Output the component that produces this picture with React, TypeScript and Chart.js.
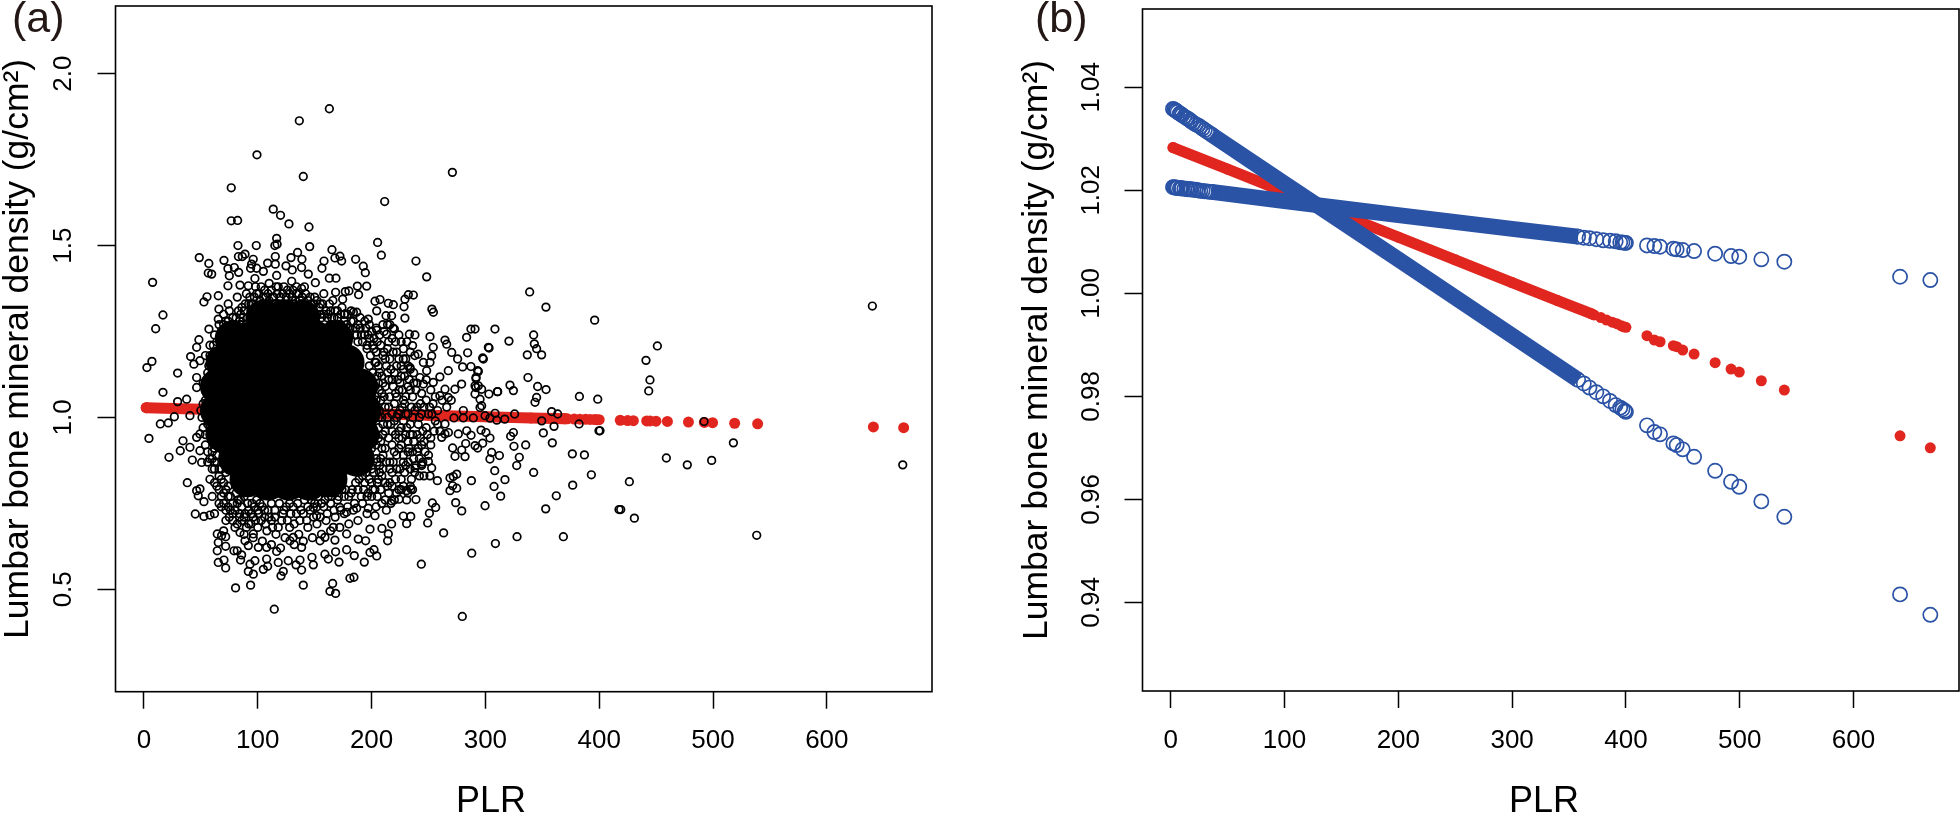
import React, { useEffect, useRef } from "react";
import { Chart, registerables } from "chart.js";

Chart.register(...registerables);

const X_TICKS = [0, 100, 200, 300, 400, 500, 600];
const Y_TICKS_A = [0.5, 1.0, 1.5, 2.0];
const Y_TICKS_B = [0.94, 0.96, 0.98, 1.0, 1.02, 1.04];
const X_TITLE = "PLR";
const Y_TITLE = "Lumbar bone mineral density (g/cm²)";

// --- fitted lines (panel a and b), dense stretch drawn as a band
const RED_BAND_X = [2, 50, 100, 150, 200, 250, 300, 340, 370];
const RED_BAND_Y = [1.0283, 1.0241, 1.0197, 1.0153, 1.0109, 1.0065, 1.0021, 0.9986, 0.996];
const RED_X = [2, 370, 372, 378, 383, 388, 392, 396, 398, 400, 418.5, 425, 430, 441.7, 444.6, 449.9, 459.9, 478.4, 492.4, 499.6, 519, 539.2, 640.9, 667.5];
const RED_Y = [1.0283, 0.996, 0.9958, 0.9953, 0.9948, 0.9944, 0.9941, 0.9937, 0.9935, 0.9934, 0.99177, 0.99093, 0.9906, 0.98983, 0.98964, 0.98899, 0.98822, 0.98653, 0.9853, 0.98472, 0.98303, 0.98122, 0.97235, 0.97002];

const BLUE_BAND_X = [36, 100, 200, 300, 358];
const UPPER_BAND_Y = [1.0197, 1.0179, 1.0152, 1.0125, 1.011];
const LOWER_BAND_Y = [1.0308, 1.0213, 1.0066, 0.9918, 0.9832];

const BLUE_X = [2, 3, 4, 5, 6, 8, 9, 10, 12, 14, 15, 17, 18, 20, 22, 24, 26, 28, 30, 32, 34, 36,
  358, 363, 368, 374, 380, 386, 391, 395, 397, 399, 400,
  418.5, 425, 430, 441.7, 444.6, 449.9, 459.9, 478.4, 492.4, 499.6, 519, 539.2, 640.9, 667.5];
const UPPER_Y = [1.0206, 1.0206, 1.0205, 1.0205, 1.0205, 1.0204, 1.0204, 1.0204, 1.0203, 1.0203, 1.0202, 1.0202, 1.0202, 1.0201, 1.0201, 1.02, 1.0199, 1.0199, 1.0198, 1.0198, 1.0197, 1.0197,
  1.011, 1.0108, 1.0107, 1.0105, 1.0103, 1.0102, 1.0101, 1.0099, 1.0099, 1.0098, 1.0098,
  1.0093, 1.00918, 1.00905, 1.00866, 1.00854, 1.00841, 1.00821, 1.00769, 1.00724, 1.00711, 1.0066, 1.00614, 1.00322, 1.00258];
const LOWER_Y = [1.0358, 1.0357, 1.0355, 1.0354, 1.0352, 1.0349, 1.0348, 1.0346, 1.0343, 1.034, 1.0339, 1.0336, 1.0334, 1.0331, 1.0328, 1.0326, 1.0323, 1.032, 1.0317, 1.0314, 1.0311, 1.0308,
  0.9832, 0.9825, 0.9817, 0.9808, 0.98, 0.9791, 0.9783, 0.9778, 0.9775, 0.9772, 0.977,
  0.97437, 0.97307, 0.97262, 0.97087, 0.97054, 0.96971, 0.96827, 0.96555, 0.96342, 0.96245, 0.95961, 0.95662, 0.94155, 0.93759];

// --- panel a: the solid centre of the cloud
const CLOUD_CORE = [
  [105, 1.29], [122, 1.29], [139, 1.29],
  [78, 1.23], [96, 1.23], [114, 1.23], [132, 1.23], [150, 1.23], [168, 1.23],
  [70, 1.16], [88, 1.16], [106, 1.16], [124, 1.16], [142, 1.16], [160, 1.16], [178, 1.16],
  [65, 1.09], [83, 1.09], [101, 1.09], [119, 1.09], [137, 1.09], [155, 1.09], [173, 1.09], [190, 1.09],
  [65, 1.02], [83, 1.02], [101, 1.02], [119, 1.02], [137, 1.02], [155, 1.02], [173, 1.02], [193, 1.02],
  [70, 0.95], [88, 0.95], [106, 0.95], [124, 0.95], [142, 0.95], [160, 0.95], [178, 0.95], [191, 0.95],
  [81, 0.88], [99, 0.88], [117, 0.88], [135, 0.88], [153, 0.88], [171, 0.88], [187, 0.88],
  [91, 0.82], [109, 0.81], [127, 0.81], [145, 0.81], [163, 0.82],
];

// --- panel a: individual subjects
const CLOUD_UPPER = [
  [162.9, 1.898], [136.5, 1.863], [99.3, 1.764], [140, 1.701], [271, 1.713], [76.7, 1.668], [211.5, 1.628], [76.7, 1.572], [82.3, 1.573],
  [113.6, 1.606], [120, 1.588], [127.4, 1.563], [145, 1.554], [116.6, 1.521], [115, 1.5], [117, 1.504], [82.6, 1.5], [98.7, 1.5], [145.6, 1.497],
  [205.3, 1.509], [208.6, 1.472], [239, 1.455], [248.4, 1.409], [7.6, 1.393], [16.7, 1.298], [10.3, 1.258], [2.6, 1.145], [7, 1.163],
  [29.6, 1.129], [16.7, 1.073], [29.6, 1.046], [37.5, 1.053], [48.6, 1.465], [57, 1.448], [56.5, 1.42], [59.5, 1.417], [70.3, 1.457], [73.8, 1.433],
  [79.4, 1.436], [83.2, 1.422], [83, 1.468], [86.4, 1.468], [88.8, 1.475], [96, 1.46], [94.6, 1.446], [99, 1.434], [93.7, 1.434], [104.9, 1.425],
  [108.7, 1.449], [115.4, 1.468], [115.4, 1.446], [124.8, 1.441], [129.2, 1.465], [135, 1.48], [138.8, 1.46], [130.3, 1.429], [138.5, 1.436], [144.4, 1.417],
  [158.2, 1.455], [156.4, 1.434], [165.2, 1.488], [167.8, 1.464], [172.2, 1.469], [173.7, 1.455], [162.9, 1.405], [168.7, 1.405], [186, 1.46], [192.7, 1.44],
  [194.5, 1.421], [195.7, 1.382], [187.5, 1.382], [188.6, 1.357], [176.9, 1.366], [180.1, 1.368], [174.6, 1.344], [168.4, 1.364], [150.6, 1.392], [138.5, 1.375],
  [129.8, 1.396], [116.6, 1.413], [97.5, 1.404], [91.7, 1.383], [84.4, 1.385], [75, 1.412], [73.8, 1.383], [65.3, 1.354], [55.4, 1.351], [52.7, 1.336],
  [65.9, 1.315], [65.3, 1.286], [57.1, 1.257], [48.3, 1.226], [46.3, 1.204], [41, 1.177], [43.9, 1.155], [49.2, 1.165], [46.3, 1.116], [46.3, 1.087],
  [236.7, 1.356], [232.3, 1.357], [229.3, 1.344], [219.1, 1.328], [214.7, 1.332], [207.4, 1.343], [203, 1.338], [228.5, 1.322], [253, 1.315], [254.3, 1.306],
  [229.3, 1.289], [217.6, 1.296], [212.7, 1.296], [204.5, 1.31], [197.1, 1.286], [184, 1.306], [176.6, 1.301], [186.9, 1.306], [233.2, 1.242], [238.1, 1.24],
  [220, 1.257], [204.5, 1.254], [213.2, 1.242], [251.3, 1.235], [236, 1.209], [254.2, 1.204], [264.5, 1.225], [266, 1.213], [270.4, 1.189], [283.5, 1.233],
  [287.3, 1.257], [290.9, 1.257], [308.4, 1.257], [302.6, 1.204], [303.2, 1.202], [284.4, 1.188], [275.6, 1.17], [298.2, 1.17], [280, 1.147], [287.3, 1.148],
  [293.8, 1.134], [291.7, 1.113], [267.4, 1.136], [260, 1.118], [254.2, 1.102], [279.1, 1.097], [273.2, 1.082], [291.7, 1.087], [296.7, 1.082], [303.1, 1.068],
  [310.5, 1.075], [295.3, 1.053], [296.7, 1.034], [264.5, 1.082], [260, 1.063], [267.4, 1.058], [245.5, 1.16], [251.3, 1.16], [252.8, 1.179], [241, 1.184],
  [227.9, 1.17], [233.8, 1.145], [242.5, 1.116], [245.5, 1.097], [248.4, 1.136],
];
const CLOUD_RIGHT = [
  [338.9, 1.365], [353.2, 1.321], [396, 1.283], [342.4, 1.24], [343, 1.214], [345, 1.2], [349.4, 1.182], [336.8, 1.182], [320.7, 1.222], [297.6, 1.173],
  [337.4, 1.116], [345.9, 1.09], [353.3, 1.081], [321.6, 1.094], [324.6, 1.078], [345, 1.058], [343.6, 1.044], [382.6, 1.061], [398.7, 1.053], [310.8, 1.075],
  [293.2, 1.136], [291.8, 1.117], [290.9, 1.092], [293.8, 1.092], [290.9, 1.068], [295.3, 1.029], [358.2, 1.017], [363.5, 1.01], [325.7, 1.01], [349.5, 0.99],
  [382.3, 0.981], [360.3, 0.974], [350.9, 0.955], [399.8, 0.961], [324.6, 0.956], [322.2, 0.945], [325.1, 0.916], [335.4, 0.92], [358.8, 0.926], [376.4, 0.894],
  [387, 0.891], [329.8, 0.884], [327.5, 0.86], [342.4, 0.84], [393.1, 0.833], [376.7, 0.803], [362.3, 0.772], [353, 0.734], [417.4, 0.732], [317.2, 0.819],
  [308.2, 0.845], [307.6, 0.799], [313.4, 0.771], [299.7, 0.743], [287.7, 0.816], [312.3, 0.889], [304, 0.879], [305.5, 0.898], [296.2, 0.963], [300.5, 0.956],
  [304, 0.94], [297.6, 0.925], [287.4, 0.948], [283.6, 0.961], [282.7, 0.924], [279.2, 0.905], [282.1, 0.886], [273.3, 0.887], [271.2, 0.911], [290.9, 0.918],
  [293.2, 0.911], [276.2, 0.952], [264.5, 0.952], [261.6, 0.942], [274.8, 0.835], [271.8, 0.828], [268.9, 0.824], [271.2, 0.801], [274.8, 0.794], [268.9, 0.787],
  [273.9, 0.752], [279.2, 0.728], [257.8, 0.816], [251.3, 0.83], [252.8, 0.853], [249.9, 0.872], [244, 0.864], [238.1, 0.853], [239, 0.761], [253.4, 0.751],
  [256.3, 0.738], [250.8, 0.721], [249.3, 0.693], [263.3, 0.664], [230.8, 0.76], [224.1, 0.762], [217.6, 0.757], [234.6, 0.792], [230.8, 0.787], [227.9, 0.713],
  [234.4, 0.712], [230.8, 0.691], [243.7, 0.573], [288, 0.605], [308.8, 0.633], [327.8, 0.653], [368.5, 0.653], [279.7, 0.421],
  [640, 1.324], [451.1, 1.208], [441.1, 1.166], [444.6, 1.109], [443.5, 1.077], [400.7, 0.961], [459, 0.882], [477.4, 0.862], [498.8, 0.875],
  [517.9, 0.926], [426.5, 0.813], [418.9, 0.732], [430.9, 0.707], [538.4, 0.657], [666.7, 0.862], [492.1, 0.988],
  [280.6, 1.02], [289.4, 0.9985], [299.7, 1.005], [308.5, 1.012], [304, 0.998], [310, 0.992], [317, 0.995], [272.4, 0.9985], [280.6, 0.9985], [264.5, 0.981], [267.5, 0.956],
];
const CLOUD_LOWER = [
  [4.4, 0.939], [14.4, 0.981], [21.4, 0.984], [26.7, 1.002], [22, 0.884], [31.9, 0.903], [34.3, 0.932], [40.4, 0.913], [42.5, 0.876], [38.1, 0.81],
  [46.3, 0.787], [47.7, 0.772], [49.2, 0.792], [45.1, 0.719], [52.7, 0.712], [58, 0.716], [52.7, 0.755], [49.2, 0.903], [50.7, 0.869], [46.3, 0.942], [49.2, 0.952], [40.4, 1.005],
  [64.4, 0.661], [65.3, 0.636], [68.2, 0.656], [71.8, 0.653], [71.8, 0.625], [64.4, 0.612], [65.3, 0.578], [70.3, 0.585], [71.8, 0.562], [79.1, 0.612], [82, 0.612], [85.8, 0.6],
  [84.9, 0.585], [80.5, 0.504], [93.7, 0.512], [91.7, 0.552], [96.1, 0.544], [93.2, 0.573], [97.5, 0.583], [88.8, 0.641], [91.7, 0.627], [100.5, 0.622], [104.9, 0.558], [108.7, 0.567],
  [107.8, 0.588], [116.6, 0.61], [118, 0.578], [120.4, 0.539], [122.4, 0.552], [114.5, 0.442], [126.8, 0.583], [133.6, 0.571], [137.1, 0.585], [138.5, 0.556], [140, 0.512], [147.6, 0.593],
  [148.8, 0.571], [159, 0.602], [162, 0.588], [171.4, 0.579], [165.8, 0.517], [163.4, 0.494], [168.4, 0.488], [168.4, 0.609], [178.1, 0.615], [184.8, 0.598], [181, 0.532], [184.5, 0.535],
  [193.6, 0.579], [198.6, 0.607], [202.1, 0.615], [204.5, 0.597], [188.3, 0.646], [194.8, 0.641], [178.1, 0.661], [167.8, 0.643], [209.1, 0.677], [214.7, 0.661], [214.1, 0.641], [217.6, 0.69],
  [197.1, 0.736], [203, 0.714], [198.6, 0.675], [186.9, 0.736], [178.1, 0.724], [172.2, 0.738], [166.4, 0.68], [151.7, 0.714], [148.8, 0.738], [131.2, 0.651], [138.5, 0.622], [128.3, 0.641],
  [154.7, 0.641], [159, 0.651], [107.8, 0.622], [96.1, 0.661], [84.4, 0.665],
];
const CLOUD_FRINGE = [
  [62, 1.24], [66, 1.27], [70, 1.3], [74, 1.33], [78, 1.29], [82, 1.35], [86, 1.32], [90, 1.36], [94, 1.31], [98, 1.38], [102, 1.34], [106, 1.37], [110, 1.39], [114, 1.35], [118, 1.38],
  [122, 1.33], [126, 1.37], [130, 1.35], [134, 1.38], [138, 1.33], [142, 1.36], [146, 1.31], [150, 1.35], [154, 1.32], [158, 1.36], [162, 1.3], [166, 1.34], [170, 1.29], [174, 1.32],
  [178, 1.27], [182, 1.31], [186, 1.26], [190, 1.29], [194, 1.24], [198, 1.27], [202, 1.23], [68, 1.25], [76, 1.26], [84, 1.28], [92, 1.33], [100, 1.3], [108, 1.33], [116, 1.31],
  [124, 1.3], [132, 1.31], [140, 1.3], [148, 1.28], [156, 1.29], [164, 1.27], [172, 1.25], [180, 1.24], [188, 1.22], [196, 1.2], [204, 1.19], [58, 1.21], [54, 1.18], [60, 1.16],
  [56, 1.13], [52, 1.1], [58, 1.08], [54, 1.05], [50, 1.02], [56, 1], [52, 0.97], [58, 0.95], [54, 0.92], [60, 0.9], [56, 0.87], [62, 0.85], [58, 0.82], [64, 0.8], [60, 0.77], [66, 0.75],
  [62, 0.72], [68, 0.74], [72, 0.7], [76, 0.73], [70, 0.67], [80, 0.68], [84, 0.71], [88, 0.66], [92, 0.69], [96, 0.65], [100, 0.68], [104, 0.64], [108, 0.67], [112, 0.63], [116, 0.66],
  [120, 0.62], [124, 0.65], [128, 0.68], [132, 0.63], [136, 0.66], [140, 0.64], [144, 0.68], [148, 0.65], [152, 0.69], [156, 0.66], [160, 0.7], [164, 0.67], [168, 0.71], [172, 0.68],
  [176, 0.72], [180, 0.69], [184, 0.73], [188, 0.7], [192, 0.75], [196, 0.72], [200, 0.77], [204, 0.74], [208, 0.79], [212, 0.76],
  [206, 0.82], [210, 0.85], [214, 0.8], [218, 0.84], [222, 0.78], [226, 0.82], [230, 0.86], [234, 0.8], [238, 0.84], [242, 0.88], [246, 0.83], [250, 0.89], [208, 0.88], [212, 0.91],
  [216, 0.87], [220, 0.9], [224, 0.94], [228, 0.89], [232, 0.93], [236, 0.9], [240, 0.95], [244, 0.92], [248, 0.97], [252, 0.94], [256, 0.99], [260, 0.96], [210, 0.95], [214, 0.98],
  [218, 0.96], [222, 1], [226, 0.97], [230, 1.01], [234, 0.98], [238, 1.02], [242, 1], [246, 1.03], [250, 1.01], [254, 1.04], [258, 1.02], [262, 1.05], [266, 1.03], [270, 1.05],
  [212, 1.03], [216, 1.06], [220, 1.04], [224, 1.08], [228, 1.05], [232, 1.09], [236, 1.06], [240, 1.1], [244, 1.07], [248, 1.11], [252, 1.08], [256, 1.06], [210, 1.1], [214, 1.13],
  [218, 1.11], [222, 1.15], [226, 1.12], [230, 1.17], [234, 1.14], [238, 1.18], [206, 1.15], [210, 1.18], [214, 1.2], [218, 1.23], [222, 1.19], [226, 1.22], [205, 1.22], [200, 1.25],
  [194, 1.06], [196, 0.9], [200, 0.98], [204, 1.05], [204, 0.92], [200, 0.85], [206, 1],
];
// denser shell of subjects hugging the solid centre
const CLOUD_SHELL = [
  [72, 1.28], [75, 1.31], [80, 1.27], [83, 1.31], [87, 1.29], [89, 1.33], [93, 1.35], [96, 1.33], [99, 1.36], [103, 1.38], [105, 1.35], [109, 1.36], [112, 1.37], [115, 1.33], [117, 1.36],
  [120, 1.35], [123, 1.38], [125, 1.35], [128, 1.33], [131, 1.37], [133, 1.34], [136, 1.36], [139, 1.35], [141, 1.38], [144, 1.34], [147, 1.33], [149, 1.31], [152, 1.34], [155, 1.3], [157, 1.33],
  [160, 1.31], [163, 1.33], [165, 1.29], [168, 1.31], [171, 1.27], [173, 1.3], [176, 1.28], [179, 1.3], [181, 1.26], [184, 1.28], [187, 1.24], [190, 1.26], [192, 1.22], [195, 1.26], [198, 1.23],
  [201, 1.21], [64, 1.22], [67, 1.2], [62, 1.19], [65, 1.17], [58, 1.18], [62, 1.14], [57, 1.15], [60, 1.11], [55, 1.11], [59, 1.06], [54, 1.08], [57, 1.03], [52, 1.04], [56, 0.98], [51, 1],
  [58, 0.97], [54, 0.95], [60, 0.93], [56, 0.9], [62, 0.91], [58, 0.88], [64, 0.87], [60, 0.85], [66, 0.83], [62, 0.81], [68, 0.85], [66, 0.79], [70, 0.81], [68, 0.77], [72, 0.79], [70, 0.75],
  [74, 0.77], [72, 0.73], [78, 0.75], [75, 0.71], [80, 0.73], [78, 0.7], [83, 0.76], [86, 0.74], [82, 0.69], [86, 0.7], [89, 0.72], [91, 0.75], [94, 0.72], [90, 0.68], [94, 0.69], [98, 0.7],
  [97, 0.74], [101, 0.72], [103, 0.7], [106, 0.73], [107, 0.69], [110, 0.71], [113, 0.68], [115, 0.71], [118, 0.68], [121, 0.7], [123, 0.73], [126, 0.7], [129, 0.72], [132, 0.69], [134, 0.72],
  [137, 0.7], [140, 0.72], [143, 0.7], [146, 0.73], [149, 0.71], [152, 0.74], [155, 0.71], [158, 0.74], [161, 0.72], [164, 0.75], [167, 0.73], [170, 0.76], [173, 0.73], [176, 0.77], [179, 0.74],
  [182, 0.78], [185, 0.75], [188, 0.79], [191, 0.77], [194, 0.81], [197, 0.78], [200, 0.81], [203, 0.79], [207, 0.84], [205, 0.87], [209, 0.91], [206, 0.94], [210, 0.98], [207, 1.02],
  [211, 1.06], [207, 1.08], [209, 1.12], [205, 1.12], [203, 1.16], [208, 1.21], [212, 1.17], [215, 1.22], [204, 1.26], [210, 1.27], [216, 1.27], [221, 1.22], [224, 1.17], [228, 1.14],
  [225, 1.1], [221, 1.07], [227, 1.03], [223, 1.01], [228, 0.99], [224, 0.96], [230, 0.95], [226, 0.92], [232, 0.9], [228, 0.87], [234, 0.85], [222, 0.85], [226, 0.79], [216, 0.81], [220, 0.76],
  [236, 0.95], [235, 1.03], [239, 1.08], [243, 1.04], [233, 1.11], [237, 1.13], [241, 0.98], [245, 0.96], [241, 0.91], [247, 0.9], [244, 0.86], [252, 0.92], [255, 0.96], [253, 1.01], [258, 0.98],
];
// dense patches beside the solid centre, where rings nearly merge
const CLOUD_DENSE_RIGHT = [
  [196, 1.21], [199, 1.18], [202, 1.2], [198, 1.15], [201, 1.13], [204, 1.16], [207, 1.13], [199, 1.11], [203, 1.09], [206, 1.1], [209, 1.07], [200, 1.07], [204, 1.03], [208, 1.05],
  [212, 1.09], [215, 1.11], [213, 1.15], [217, 1.14], [211, 1.19], [216, 1.17], [219, 1.19], [220, 1.13], [223, 1.11], [226, 1.15], [229, 1.12], [232, 1.15], [219, 1.09], [222, 1.06], [227, 1.08],
  [230, 1.06], [234, 1.08], [237, 1.1], [215, 1.03], [218, 1.01], [214, 1], [217, 0.98], [220, 0.99], [225, 1.02], [229, 1.04], [232, 1.01], [236, 1], [240, 1.03], [244, 1.01], [248, 1.05],
  [251, 1.03], [203, 1.01], [206, 0.97], [209, 1], [212, 0.96], [208, 0.93], [215, 0.94], [218, 0.92], [221, 0.95], [224, 0.91], [227, 0.94], [231, 0.97], [234, 0.95], [237, 0.93], [233, 0.91],
  [237, 0.88], [240, 0.9], [243, 0.94], [246, 0.93], [249, 0.95], [204, 0.88], [207, 0.86], [210, 0.89], [213, 0.87], [216, 0.85], [219, 0.87], [222, 0.89], [225, 0.85], [229, 0.84], [232, 0.87],
  [235, 0.82], [239, 0.86], [242, 0.83], [245, 0.87], [202, 0.84], [205, 0.81], [209, 0.83], [212, 0.81], [215, 0.78], [218, 0.8], [221, 0.82], [224, 0.79], [228, 0.8], [232, 0.78], [236, 0.79],
  [198, 0.87], [195, 0.84], [198, 0.82], [193, 0.79], [196, 0.77], [201, 0.79], [205, 0.77], [209, 0.75], [213, 0.73], [217, 0.75], [211, 1.25], [214, 1.27], [207, 1.24], [219, 1.26], [224, 1.24],
  [228, 1.2], [231, 1.22], [234, 1.19], [197, 1.03], [199, 0.95], [202, 0.93], [197, 0.93], [200, 0.91],
];
const CLOUD_DENSE_TOP = [
  [72, 1.25], [76, 1.24], [70, 1.27], [74, 1.28], [78, 1.27], [82, 1.25], [85, 1.27], [81, 1.29], [85, 1.3], [88, 1.31], [91, 1.29], [94, 1.33], [97, 1.35], [101, 1.36], [104, 1.33], [107, 1.35],
  [110, 1.34], [113, 1.35], [116, 1.38], [119, 1.33], [122, 1.36], [125, 1.33], [128, 1.36], [131, 1.33], [134, 1.36], [137, 1.34], [140, 1.33], [143, 1.32], [146, 1.35], [149, 1.33], [152, 1.3],
  [155, 1.33], [158, 1.3], [161, 1.29], [164, 1.31], [167, 1.29], [170, 1.31], [173, 1.27], [176, 1.3], [179, 1.26], [182, 1.28], [185, 1.24], [188, 1.27], [191, 1.24], [194, 1.28], [197, 1.24],
  [68, 1.22], [73, 1.21], [61, 1.21], [64, 1.19], [60, 1.13], [63, 1.11], [58, 1.1], [61, 1.07], [56, 1.07], [59, 1.03], [55, 1.01],
];
const CLOUD_DENSE_BOTTOM = [
  [57, 0.99], [59, 0.94], [62, 0.93], [60, 0.88], [64, 0.89], [62, 0.87], [66, 0.85], [68, 0.82], [72, 0.84], [70, 0.78], [74, 0.8], [76, 0.77], [74, 0.74], [78, 0.72], [82, 0.75], [81, 0.78],
  [85, 0.76], [88, 0.77], [84, 0.72], [88, 0.71], [92, 0.73], [95, 0.75], [99, 0.76], [96, 0.71], [100, 0.73], [104, 0.74], [102, 0.75], [106, 0.71], [109, 0.73], [112, 0.75], [115, 0.73], [112, 0.7],
  [119, 0.75], [122, 0.72], [125, 0.74], [128, 0.75], [131, 0.74], [135, 0.75], [138, 0.73], [141, 0.76], [144, 0.74], [147, 0.76], [150, 0.75], [153, 0.77], [156, 0.75], [159, 0.76], [162, 0.77],
  [165, 0.77], [168, 0.78], [171, 0.77], [174, 0.79], [177, 0.79], [180, 0.77], [183, 0.79], [186, 0.81], [189, 0.82], [192, 0.83],
];

const RED = "#e0261f";
const BLUE = "#2a52a5";
const INK = "#000000";
const FONT = "'Liberation Sans', Arial, sans-serif";

const toPoints = (xs: number[], ys: number[]) => xs.map((x, i) => ({ x, y: ys[i] }));
const fromPairs = (pairs: number[][]) => pairs.map(([x, y]) => ({ x, y }));

const framePlugin = (letter: string, letterX: number, titleCenterX: number) => ({
  id: "frame",
  afterDraw(chart: any) {
    const { ctx, chartArea: a } = chart;
    ctx.save();
    ctx.strokeStyle = INK;
    ctx.lineWidth = 1.6;
    ctx.strokeRect(a.left, a.top, a.right - a.left, a.bottom - a.top);
    ctx.fillStyle = "#231815";
    ctx.font = `43px ${FONT}`;
    ctx.textBaseline = "alphabetic";
    ctx.textAlign = "left";
    ctx.fillText(letter, letterX, 32);
    ctx.fillStyle = INK;
    ctx.font = `36px ${FONT}`;
    ctx.textAlign = "center";
    ctx.fillText(X_TITLE, titleCenterX, 812);
    ctx.restore();
  },
});

function makeOptions(p: any) {
  return {
    responsive: false,
    animation: false,
    devicePixelRatio: 1,
    layout: { autoPadding: false, padding: { left: 0, top: p.top, right: p.right, bottom: 0 } },
    plugins: { legend: { display: false }, tooltip: { enabled: false } },
    scales: {
      x: {
        type: "linear",
        min: p.xMin,
        max: p.xMax,
        afterBuildTicks: (s: any) => { s.ticks = X_TICKS.map((value) => ({ value })); },
        afterFit: (s: any) => { s.height = 814 - p.bottom; s.paddingLeft = 0; s.paddingRight = 0; s.paddingTop = 0; s.paddingBottom = 0; },
        border: { display: false },
        grid: { display: true, drawOnChartArea: false, drawTicks: true, tickLength: 17, tickWidth: 1.5, tickColor: INK },
        ticks: { color: INK, font: { family: FONT, size: 26 }, padding: 17, maxRotation: 0, minRotation: 0, autoSkip: false, callback: (v: number) => String(v) },
      },
      y: {
        type: "linear",
        min: p.yMin,
        max: p.yMax,
        afterBuildTicks: (s: any) => { s.ticks = p.yTicks.map((value: number) => ({ value })); },
        afterFit: (s: any) => { s.width = p.left; s.paddingLeft = 0; s.paddingRight = 0; s.paddingTop = 0; s.paddingBottom = 0; },
        border: { display: false },
        grid: { display: true, drawOnChartArea: false, drawTicks: true, tickLength: 18, tickWidth: 1.5, tickColor: INK },
        ticks: { color: INK, font: { family: FONT, size: 26 }, padding: p.tickPad, minRotation: 90, maxRotation: 90, crossAlign: "center", autoSkip: false, callback: (v: number) => v.toFixed(p.decimals) },
        title: { display: true, text: Y_TITLE, color: INK, font: { family: FONT, size: 35.5, lineHeight: 1 }, padding: { top: p.titlePad, bottom: 0 } },
      },
    },
  };
}

const redSets = (order: number) => [
  { label: "fit band", data: toPoints(RED_BAND_X, RED_BAND_Y), showLine: true, borderColor: RED, borderWidth: 11, pointRadius: 5.5, pointBackgroundColor: RED, pointBorderWidth: 0, order },
  { label: "fit", data: toPoints(RED_X, RED_Y), showLine: false, pointRadius: 5.5, pointBackgroundColor: RED, pointBorderWidth: 0, order },
];

function panelA() {
  const subjects = [...CLOUD_UPPER, ...CLOUD_RIGHT, ...CLOUD_LOWER, ...CLOUD_FRINGE, ...CLOUD_SHELL, ...CLOUD_DENSE_RIGHT, ...CLOUD_DENSE_TOP, ...CLOUD_DENSE_BOTTOM];
  return {
    type: "scatter",
    data: {
      datasets: [
        { label: "subjects", data: fromPairs(subjects), pointRadius: 3.8, pointBorderWidth: 1.7, pointBorderColor: INK, pointBackgroundColor: "transparent", order: 1 },
        { label: "cloud core", data: fromPairs(CLOUD_CORE), pointRadius: 18, pointBorderWidth: 0, pointBackgroundColor: INK, order: 1 },
        ...redSets(2),
      ],
    },
    options: makeOptions({ top: 6, right: 48, bottom: 691.7, left: 115.5, xMin: -25, xMax: 692.4, yMin: 0.202, yMax: 2.197, yTicks: Y_TICKS_A, decimals: 1, tickPad: 15.5, titlePad: 0 }),
    plugins: [framePlugin("(a)", 12, 491)],
  };
}

function panelB() {
  const ring = { pointRadius: 7.1, pointBorderWidth: 1.7, pointBorderColor: BLUE, pointBackgroundColor: "transparent", showLine: false, order: 1 };
  const band = { showLine: true, borderColor: BLUE, borderWidth: 15.8, pointRadius: 0, order: 1 };
  return {
    type: "scatter",
    data: {
      datasets: [
        { label: "upper", data: toPoints(BLUE_X, UPPER_Y), ...ring },
        { label: "lower", data: toPoints(BLUE_X, LOWER_Y), ...ring },
        { label: "upper band", data: toPoints(BLUE_BAND_X, UPPER_BAND_Y), ...band },
        { label: "lower band", data: toPoints(BLUE_BAND_X, LOWER_BAND_Y), ...band },
        ...redSets(2),
      ],
    },
    options: makeOptions({ top: 9, right: 1, bottom: 691, left: 162.5, xMin: -24.8, xMax: 692.7, yMin: 0.9228, yMax: 1.0552, yTicks: Y_TICKS_B, decimals: 2, tickPad: 7.5, titlePad: 39 }),
    plugins: [framePlugin("(b)", 55, 564)],
  };
}

function Panel({ left, build }: { left: number; build: () => any }) {
  const ref = useRef<HTMLCanvasElement>(null);
  useEffect(() => {
    const chart = new Chart(ref.current as HTMLCanvasElement, build());
    return () => chart.destroy();
  }, [build]);
  return <canvas ref={ref} width={980} height={814} style={{ position: "fixed", left, top: 0, width: 980, height: 814 }} />;
}

export default function App() {
  return (
    <div>
      <Panel left={0} build={panelA} />
      <Panel left={980} build={panelB} />
    </div>
  );
}
